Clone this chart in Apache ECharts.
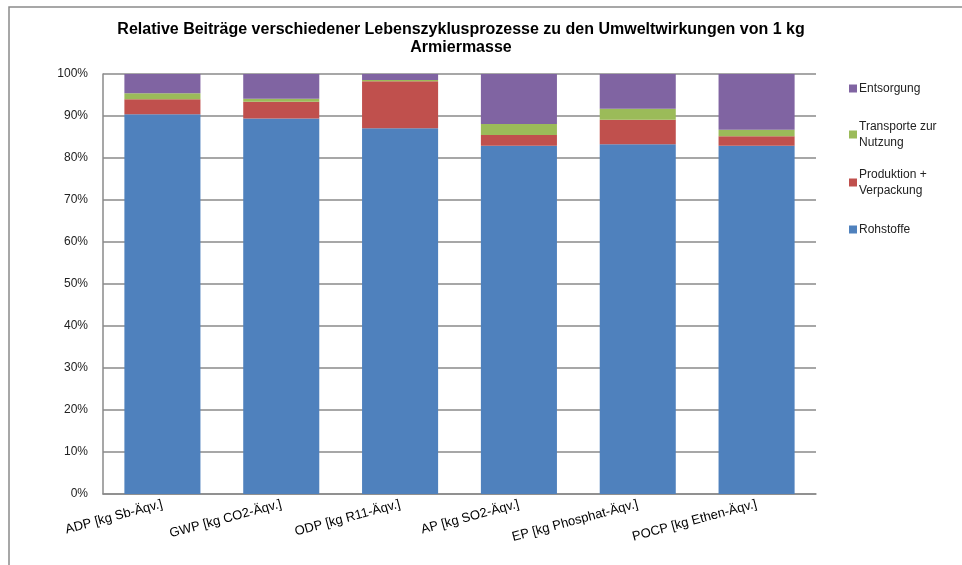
<!doctype html>
<html>
    <head>
        <meta charset="utf-8">
        <title>Relative Beiträge</title>
        <style>
            html, body { margin: 0; padding: 0; background: #fff; }
            #main { width: 962px; height: 565px; }
        </style>
    </head>
    <body>
        <div id="main"></div>
        <script src="https://cdn.jsdelivr.net/npm/echarts@6/dist/echarts.min.js"></script>
        <script>
            var categories = [
                'ADP [kg Sb-Äqv.]',
                'GWP [kg CO2-Äqv.]',
                'ODP [kg R11-Äqv.]',
                'AP [kg SO2-Äqv.]',
                'EP [kg Phosphat-Äqv.]',
                'POCP [kg Ethen-Äqv.]'
            ];
            // Anteile in %
            var rohstoffe = [90.4, 89.4, 87.1, 82.9, 83.3, 82.9];
            var produktion = [3.6, 4.0, 11.2, 2.6, 5.8, 2.3];
            var transporte = [1.4, 0.7, 0.3, 2.6, 2.6, 1.5];
            var entsorgung = [4.6, 5.9, 1.4, 11.9, 8.3, 13.3];

            var names = ['Rohstoffe', 'Produktion +\nVerpackung', 'Transporte zur\nNutzung', 'Entsorgung'];
            var colors = ['#4F81BD', '#C0504D', '#9BBB59', '#8064A2'];
            var values = [rohstoffe, produktion, transporte, entsorgung];

            var chart = echarts.init(document.getElementById('main'));

            // first text line centre of each legend entry
            var legendY = [229, 181, 133, 88];
            var legends = names.map(function (n, i) {
                var multi = n.indexOf('\n') >= 0;
                return {
                    data: [n],
                    left: 849,
                    top: legendY[i] - 7.5 - (multi ? 15 : 0),
                    padding: 0,
                    orient: 'vertical',
                    icon: 'rect',
                    itemWidth: 8,
                    itemHeight: 8,
                    selectedMode: false,
                    textStyle: {
                        fontFamily: 'Liberation Sans',
                        fontSize: 12,
                        color: '#222',
                        lineHeight: 16,
                        padding: multi ? [16, 0, 0, -3] : [0, 0, 0, -3]
                    }
                };
            });

            chart.setOption({
                animation: false,
                title: {
                    text: 'Relative Beiträge verschiedener Lebenszyklusprozesse zu den Umweltwirkungen von 1 kg\nArmiermasse',
                    left: 461,
                    textAlign: 'center',
                    top: 21,
                    padding: 0,
                    textStyle: {
                        fontFamily: 'Liberation Sans',
                        fontSize: 16,
                        fontWeight: 'bold',
                        color: '#000',
                        lineHeight: 18
                    }
                },
                legend: legends,
                graphic: [{
                    type: 'rect',
                    shape: { x: 9, y: 7, width: 1000, height: 600 },
                    style: { fill: 'none', stroke: '#8a8a8a', lineWidth: 1.5 },
                    silent: true
                }],
                grid: {
                    left: 103,
                    right: 146,
                    top: 74,
                    bottom: 71
                },
                xAxis: {
                    type: 'category',
                    data: categories,
                    axisLine: { lineStyle: { color: '#8a8a8a', width: 1.5 } },
                    axisTick: { show: false },
                    axisLabel: {
                        rotate: 15,
                        interval: 0,
                        margin: 10,
                        fontFamily: 'Liberation Sans',
                        fontSize: 13,
                        color: '#000'
                    }
                },
                yAxis: {
                    type: 'value',
                    min: 0,
                    max: 100,
                    interval: 10,
                    axisLine: { show: true, lineStyle: { color: '#8a8a8a', width: 1.5 } },
                    axisTick: { show: false },
                    splitLine: { lineStyle: { color: '#8a8a8a', width: 1.5 } },
                    axisLabel: {
                        formatter: '{value}%',
                        margin: 15,
                        fontFamily: 'Liberation Sans',
                        fontSize: 12,
                        color: '#222'
                    }
                },
                series: values.map(function (v, i) {
                    return {
                        name: names[i],
                        type: 'bar',
                        stack: 'total',
                        barWidth: '64%',
                        data: v,
                        itemStyle: { color: colors[i] }
                    };
                })
            });
        </script>
    </body>
</html>
